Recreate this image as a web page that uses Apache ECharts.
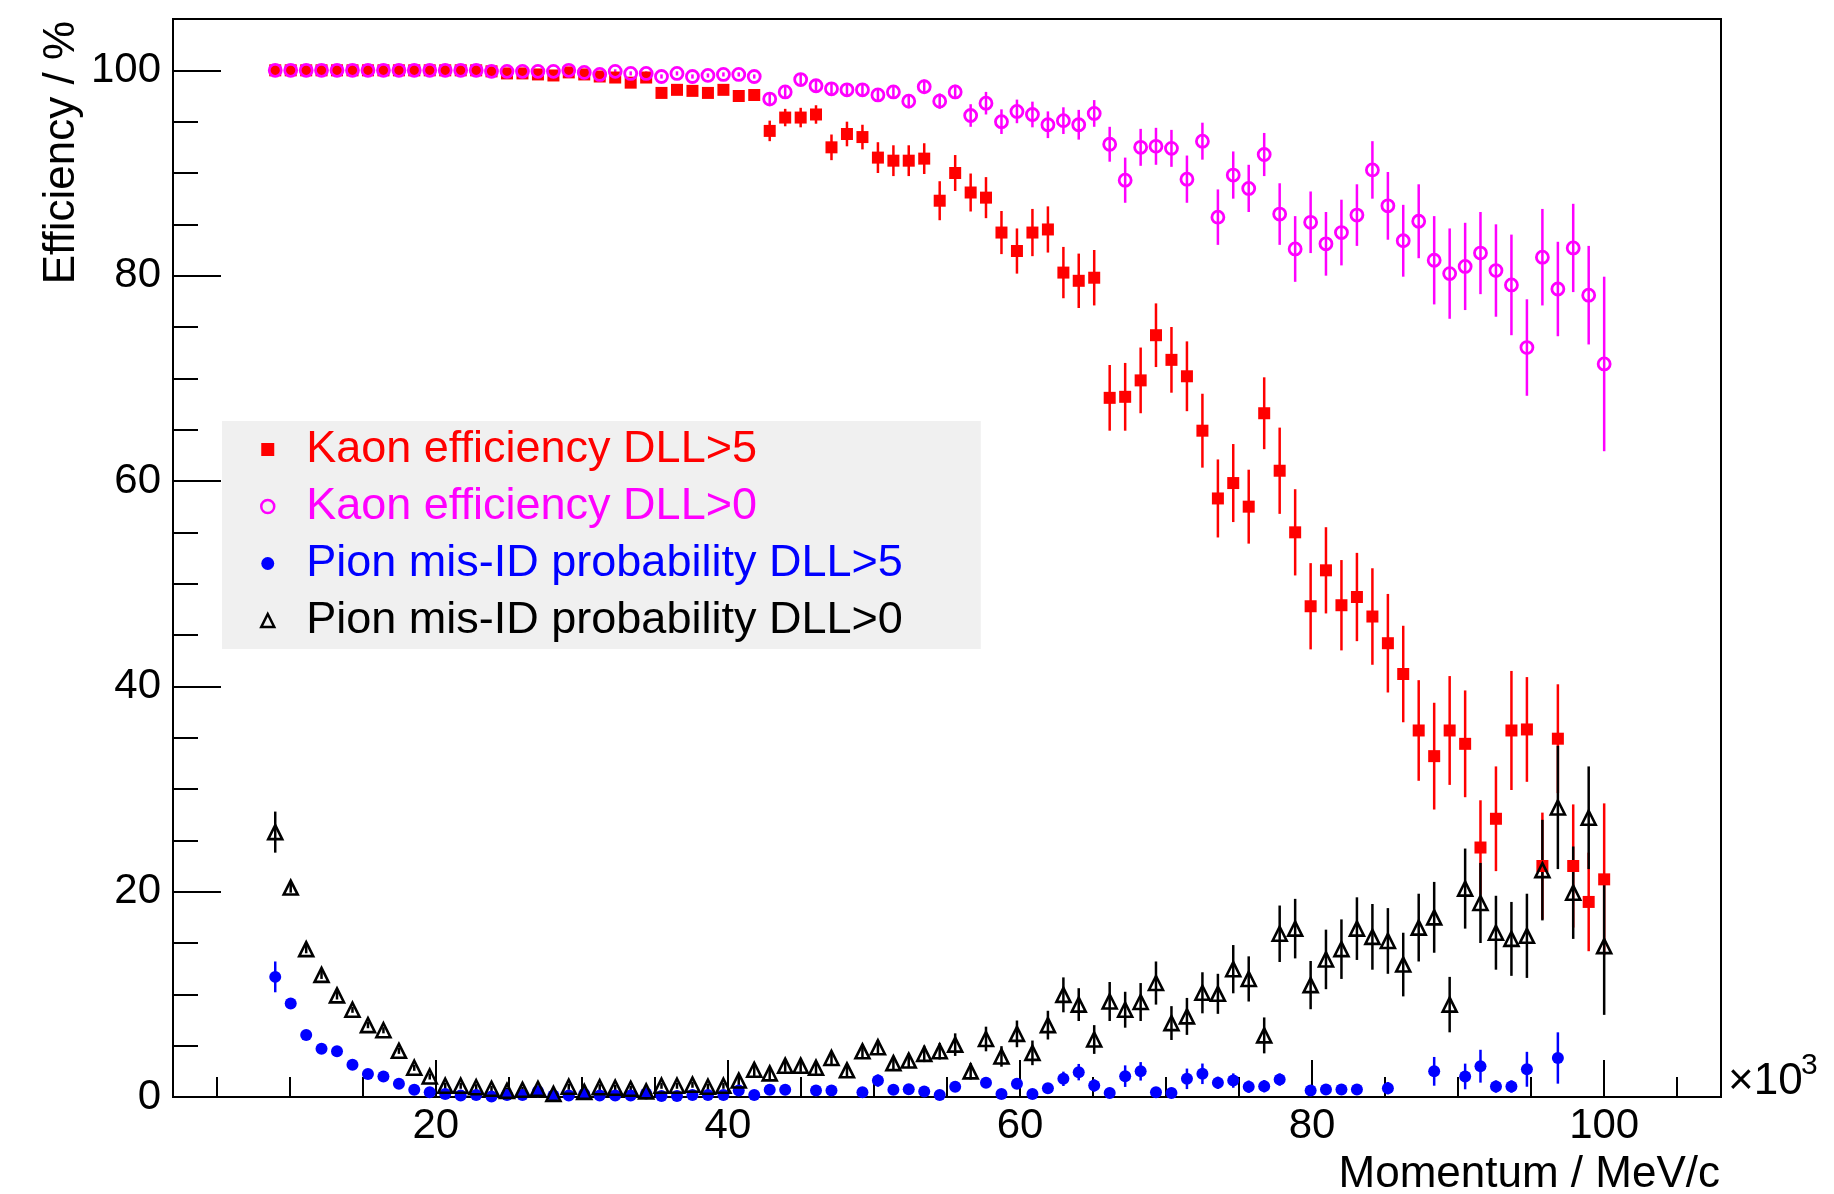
<!DOCTYPE html>
<html>
<head>
<meta charset="utf-8">
<title>Kaon efficiency and pion mis-ID vs momentum</title>
<script src="https://cdn.jsdelivr.net/npm/echarts@6/dist/echarts.min.js"></script>
<style>
    html, body { margin: 0; padding: 0; background: #fff; }
    #main { width: 1834px; height: 1194px; }
</style>
</head>
<body>
<div id="main"></div>
<script>
    // momentum bin centres, x10^3 MeV/c
    var momentum = [
        9.00, 10.06, 11.12, 12.17, 13.23, 14.29, 15.35, 16.41, 17.47, 18.52,
        19.58, 20.64, 21.70, 22.76, 23.81, 24.87, 25.93, 26.99, 28.05, 29.10,
        30.16, 31.22, 32.28, 33.34, 34.40, 35.45, 36.51, 37.57, 38.63, 39.69,
        40.74, 41.80, 42.86, 43.92, 44.98, 46.03, 47.09, 48.15, 49.21, 50.27,
        51.33, 52.38, 53.44, 54.50, 55.56, 56.62, 57.67, 58.73, 59.79, 60.85,
        61.91, 62.97, 64.02, 65.08, 66.14, 67.20, 68.26, 69.31, 70.37, 71.43,
        72.49, 73.55, 74.60, 75.66, 76.72, 77.78, 78.84, 79.90, 80.95, 82.01,
        83.07, 84.13, 85.19, 86.24, 87.30, 88.36, 89.42, 90.48, 91.53, 92.59,
        93.65, 94.71, 95.77, 96.83, 97.88, 98.94, 100.00
    ];

    // Kaon efficiency DLL>5 (%)
    var kaonDll5 = [
        100.0, 100.0, 100.0, 100.0, 100.0, 100.0, 100.0, 100.0, 100.0, 100.0,
        100.0, 100.0, 100.0, 100.0, 99.9, 99.7, 99.7, 99.6, 99.5, 99.8,
        99.6, 99.4, 99.3, 98.8, 99.3, 97.8, 98.1, 98.0, 97.8, 98.1,
        97.5, 97.6, 94.1, 95.4, 95.4, 95.7, 92.5, 93.8, 93.5, 91.5,
        91.2, 91.2, 91.4, 87.3, 90.0, 88.1, 87.6, 84.2, 82.4, 84.2,
        84.5, 80.3, 79.5, 79.8, 68.1, 68.2, 69.8, 74.2, 71.8, 70.2,
        64.9, 58.3, 59.8, 57.5, 66.6, 61.0, 55.0, 47.8, 51.3, 47.9,
        48.7, 46.8, 44.2, 41.2, 35.7, 33.2, 35.7, 34.4, 24.3, 27.1,
        35.7, 35.8, 22.5, 34.9, 22.5, 19.0, 21.2
    ];
    var kaonDll5Err = [
        0.1, 0.1, 0.1, 0.1, 0.1, 0.1, 0.1, 0.1, 0.1, 0.1,
        0.1, 0.1, 0.1, 0.1, 0.1, 0.1, 0.1, 0.1, 0.1, 0.1,
        0.1, 0.2, 0.2, 0.3, 0.3, 0.3, 0.3, 0.3, 0.3, 0.3,
        0.3, 0.3, 1.0, 0.85, 0.95, 0.9, 1.25, 1.2, 1.2, 1.5,
        1.5, 1.5, 1.5, 1.9, 1.75, 1.85, 2.0, 2.1, 2.2, 2.3,
        2.25, 2.5, 2.65, 2.7, 3.2, 3.3, 3.2, 3.1, 3.2, 3.4,
        3.6, 3.8, 3.8, 3.6, 3.5, 4.2, 4.2, 4.2, 4.2, 4.4,
        4.3, 4.7, 4.8, 4.7, 4.9, 5.2, 5.3, 5.2, 4.6, 5.1,
        5.8, 5.1, 5.2, 5.3, 6.0, 4.8, 7.4
    ];

    // Kaon efficiency DLL>0 (%)
    var kaonDll0 = [
        100.0, 100.0, 100.0, 100.0, 100.0, 100.0, 100.0, 100.0, 100.0, 100.0,
        100.0, 100.0, 100.0, 100.0, 99.9, 99.9, 99.9, 99.9, 99.9, 100.0,
        99.8, 99.6, 99.9, 99.7, 99.7, 99.4, 99.7, 99.4, 99.5, 99.6,
        99.6, 99.4, 97.2, 97.9, 99.1, 98.5, 98.2, 98.1, 98.1, 97.6,
        97.9, 97.0, 98.4, 97.0, 97.9, 95.6, 96.8, 95.0, 96.0, 95.7,
        94.7, 95.1, 94.7, 95.8, 92.8, 89.3, 92.5, 92.6, 92.4, 89.4,
        93.1, 85.7, 89.8, 88.5, 91.8, 86.0, 82.6, 85.2, 83.1, 84.2,
        85.9, 90.3, 86.8, 83.4, 85.3, 81.5, 80.2, 80.9, 82.2, 80.5,
        79.1, 73.0, 81.8, 78.7, 82.7, 78.1, 71.4
    ];
    var kaonDll0Err = [
        0.1, 0.1, 0.1, 0.1, 0.1, 0.1, 0.1, 0.1, 0.1, 0.1,
        0.1, 0.1, 0.1, 0.1, 0.1, 0.1, 0.1, 0.1, 0.1, 0.1,
        0.2, 0.2, 0.2, 0.2, 0.2, 0.2, 0.2, 0.2, 0.2, 0.2,
        0.2, 0.2, 0.5, 0.5, 0.5, 0.5, 0.5, 0.5, 0.5, 0.5,
        0.5, 0.7, 0.7, 0.75, 0.7, 1.1, 1.1, 1.2, 1.15, 1.25,
        1.3, 1.3, 1.45, 1.3, 1.7, 2.2, 1.8, 1.8, 1.8, 2.3,
        1.8, 2.7, 2.3, 2.3, 2.1, 3.0, 3.2, 3.0, 3.1, 3.2,
        3.0, 2.8, 3.3, 3.5, 3.6, 4.3, 4.4, 4.25, 4.0, 4.5,
        4.9, 4.7, 4.7, 4.6, 4.3, 4.8, 8.5
    ];

    // Pion mis-ID probability DLL>5 (%), null = no point
    var pionDll5 = [
        11.7, 9.1, 6.05, 4.7, 4.45, 3.15, 2.25, 2.0, 1.3, 0.7,
        0.47, 0.3, 0.15, 0.2, 0.05, 0.2, 0.2, 0.55, 0.15, 0.15,
        0.3, 0.15, 0.15, 0.15, 0.35, 0.1, 0.1, 0.2, 0.2, 0.2,
        0.63, 0.2, 0.7, 0.7, null, 0.63, 0.63, null, 0.47, 1.6,
        0.7, 0.76, 0.53, 0.2, 1.0, null, 1.38, 0.3, 1.28, 0.3,
        0.86, 1.77, 2.42, 1.12, 0.4, 2.03, 2.5, 0.47, 0.4, 1.77,
        2.26, 1.38, 1.6, 1.0, 1.05, 1.7, null, 0.63, 0.73, 0.73,
        0.73, null, 0.86, null, null, 2.5, null, 2.0, 3.0, 1.02,
        1.02, 2.7, null, 3.8, null, null, null
    ];
    var pionDll5Err = [
        1.5, 0.4, 0.3, 0.3, 0.3, 0.3, 0.3, 0.3, 0.3, 0.3,
        0.3, 0.3, 0.3, 0.3, 0.3, 0.3, 0.3, 0.3, 0.3, 0.3,
        0.3, 0.3, 0.3, 0.3, 0.3, 0.3, 0.3, 0.3, 0.3, 0.3,
        0.3, 0.3, 0.3, 0.3, 0, 0.3, 0.3, 0, 0.3, 0.6,
        0.4, 0.4, 0.4, 0.4, 0.5, 0, 0.5, 0.4, 0.5, 0.4,
        0.5, 0.7, 0.8, 0.6, 0.5, 1.05, 0.9, 0.5, 0.5, 1.0,
        1.0, 0.6, 0.7, 0.6, 0.6, 0.6, 0, 0.5, 0.5, 0.5,
        0.5, 0, 0.6, 0, 0, 1.4, 0, 1.25, 1.6, 0.6,
        0.6, 1.7, 0, 2.5, 0, 0, 0
    ];

    // Pion mis-ID probability DLL>0 (%)
    var pionDll0 = [
        25.8, 20.4, 14.4, 11.9, 9.9, 8.5, 7.0, 6.5, 4.5, 2.85,
        2.0, 1.1, 1.1, 0.95, 0.8, 0.6, 0.7, 0.8, 0.3, 1.0,
        0.5, 0.95, 0.9, 0.8, 0.55, 1.1, 1.1, 1.2, 1.0, 1.1,
        1.6, 2.65, 2.3, 3.05, 3.05, 2.85, 3.8, 2.6, 4.45, 4.85,
        3.3, 3.55, 4.2, 4.45, 5.1, 2.5, 5.65, 3.95, 6.15, 4.3,
        7.0, 9.95, 9.0, 5.6, 9.3, 8.5, 9.25, 11.1, 7.2, 7.85,
        10.15, 10.05, 12.45, 11.5, 6.0, 15.9, 16.4, 10.9, 13.4, 14.4,
        16.4, 15.6, 15.2, 12.9, 16.5, 17.5, 9.0, 20.3, 18.9, 16.0,
        15.4, 15.7, 22.1, 28.2, 19.9, 27.2, 14.7
    ];
    var pionDll0Err = [
        2.0, 0.5, 0.4, 0.4, 0.4, 0.3, 0.3, 0.3, 0.3, 0.3,
        0.3, 0.3, 0.3, 0.3, 0.3, 0.3, 0.3, 0.3, 0.3, 0.3,
        0.3, 0.3, 0.3, 0.3, 0.3, 0.3, 0.3, 0.3, 0.3, 0.3,
        0.5, 0.6, 0.6, 0.6, 0.6, 0.6, 0.7, 0.6, 0.7, 0.7,
        0.7, 0.7, 0.8, 0.8, 1.1, 0.8, 1.2, 1.0, 1.3, 1.2,
        1.4, 1.7, 1.6, 1.4, 1.9, 1.75, 1.85, 2.1, 1.65, 1.8,
        2.0, 1.95, 2.35, 2.2, 1.75, 2.75, 2.9, 2.35, 2.9, 2.9,
        3.05, 3.2, 3.2, 3.1, 3.3, 3.45, 2.7, 3.9, 3.9, 3.6,
        3.6, 4.1, 4.9, 6.0, 4.5, 5.0, 6.7
    ];

    // axis ticks
    var xMajorTicks = [20, 40, 60, 80, 100];
    var xMinorTicks = [5, 10, 15, 25, 30, 35, 45, 50, 55, 65, 70, 75, 85, 90, 95, 105];
    var yMajorTicks = [0, 20, 40, 60, 80, 100];
    var yMinorTicks = [5, 10, 15, 25, 30, 35, 45, 50, 55, 65, 70, 75, 85, 90, 95];

    var FONT = '"Liberation Sans", Arial, Helvetica, sans-serif';

    function points(ys) {
        var out = [];
        for (var i = 0; i < momentum.length; i++) {
            if (ys[i] === null) continue;
            out.push([momentum[i], ys[i]]);
        }
        return out;
    }

    function errorBars(ys, errs, color) {
        var out = [];
        for (var i = 0; i < momentum.length; i++) {
            if (ys[i] === null) continue;
            out.push([momentum[i], Math.max(0, ys[i] - errs[i]), ys[i] + errs[i]]);
        }
        return {
            type: 'custom',
            data: out,
            clip: true,
            silent: true,
            encode: { x: 0, y: [1, 2] },
            renderItem: function (params, api) {
                var lo = api.coord([api.value(0), api.value(1)]);
                var hi = api.coord([api.value(0), api.value(2)]);
                return {
                    type: 'line',
                    shape: { x1: lo[0], y1: lo[1], x2: hi[0], y2: hi[1] },
                    style: { stroke: color, lineWidth: 2.5 }
                };
            }
        };
    }

    var myChart = echarts.init(document.getElementById('main'));

    var option = {
        animation: false,
        backgroundColor: '#ffffff',
        grid: {
            left: 173, right: 113, top: 19, bottom: 97,
            show: true, borderColor: '#000', borderWidth: 2
        },
        xAxis: [
            {
                type: 'value', min: 2, max: 108, position: 'bottom',
                axisLine: { show: true, lineStyle: { color: '#000', width: 2 } },
                axisTick: { show: true, inside: true, length: 37, customValues: xMajorTicks,
                    lineStyle: { color: '#000', width: 2 } },
                axisLabel: { customValues: xMajorTicks, fontSize: 42, fontFamily: FONT,
                    color: '#000', margin: 8 },
                splitLine: { show: false }
            },
            {
                type: 'value', min: 2, max: 108, position: 'bottom',
                axisLine: { show: false },
                axisTick: { show: true, inside: true, length: 20, customValues: xMinorTicks,
                    lineStyle: { color: '#000', width: 2 } },
                axisLabel: { show: false },
                splitLine: { show: false }
            }
        ],
        yAxis: [
            {
                type: 'value', min: 0, max: 105, position: 'left',
                axisLine: { show: true, lineStyle: { color: '#000', width: 2 } },
                axisTick: { show: true, inside: true, length: 48, customValues: yMajorTicks,
                    lineStyle: { color: '#000', width: 2 } },
                axisLabel: { customValues: yMajorTicks, fontSize: 42, fontFamily: FONT,
                    color: '#000', margin: 12 },
                splitLine: { show: false }
            },
            {
                type: 'value', min: 0, max: 105, position: 'left',
                axisLine: { show: false },
                axisTick: { show: true, inside: true, length: 25, customValues: yMinorTicks,
                    lineStyle: { color: '#000', width: 2 } },
                axisLabel: { show: false },
                splitLine: { show: false }
            }
        ],
        legend: {
            left: 222, top: 421, orient: 'vertical',
            backgroundColor: '#f0f0f0',
            padding: [0, 78, 0, 38],
            itemGap: 0, itemWidth: 13, itemHeight: 13,
            selectedMode: false,
            textStyle: { fontSize: 45, fontFamily: FONT, lineHeight: 57, padding: [0, 0, 0, 27] },
            data: [
                { name: 'Kaon efficiency DLL>5', icon: 'rect',
                  itemStyle: { color: '#ff0000', borderWidth: 0 }, textStyle: { color: '#ff0000' } },
                { name: 'Kaon efficiency DLL>0', icon: 'circle',
                  itemStyle: { color: 'transparent', borderColor: '#ff00ff', borderWidth: 2.5 },
                  textStyle: { color: '#ff00ff' } },
                { name: 'Pion mis-ID probability DLL>5', icon: 'circle',
                  itemStyle: { color: '#0000ff', borderWidth: 0 }, textStyle: { color: '#0000ff' } },
                { name: 'Pion mis-ID probability DLL>0', icon: 'triangle',
                  itemStyle: { color: 'transparent', borderColor: '#000', borderWidth: 2.5 },
                  textStyle: { color: '#000' } }
            ]
        },
        graphic: [
            { type: 'text', x: 62, y: 21, rotation: Math.PI / 2,
              style: { text: 'Efficiency / %', fontSize: 44, fontFamily: FONT, fill: '#000',
                       align: 'right', verticalAlign: 'middle' } },
            { type: 'text', x: 1720, y: 1175,
              style: { text: 'Momentum / MeV/c', fontSize: 44, fontFamily: FONT, fill: '#000',
                       align: 'right', verticalAlign: 'middle' } },
            { type: 'text', x: 1728, y: 1082,
              style: { text: '\u00d710', fontSize: 44, fontFamily: FONT, fill: '#000',
                       align: 'left', verticalAlign: 'middle' } },
            { type: 'text', x: 1801, y: 1066,
              style: { text: '3', fontSize: 30, fontFamily: FONT, fill: '#000',
                       align: 'left', verticalAlign: 'middle' } }
        ],
        series: [
            errorBars(kaonDll5, kaonDll5Err, '#ff0000'),
            {
                name: 'Kaon efficiency DLL>5', type: 'scatter', data: points(kaonDll5),
                symbol: 'rect', symbolSize: 12,
                itemStyle: { color: '#ff0000', opacity: 1 }
            },
            errorBars(kaonDll0, kaonDll0Err, '#ff00ff'),
            {
                name: 'Kaon efficiency DLL>0', type: 'scatter', data: points(kaonDll0),
                symbol: 'circle', symbolSize: 12,
                itemStyle: { color: 'transparent', borderColor: '#ff00ff', borderWidth: 2.8, opacity: 1 }
            },
            errorBars(pionDll5, pionDll5Err, '#0000ff'),
            {
                name: 'Pion mis-ID probability DLL>5', type: 'scatter', data: points(pionDll5),
                symbol: 'circle', symbolSize: 12,
                itemStyle: { color: '#0000ff', opacity: 1 }
            },
            errorBars(pionDll0, pionDll0Err, '#000000'),
            {
                name: 'Pion mis-ID probability DLL>0', type: 'scatter', data: points(pionDll0),
                symbol: 'triangle', symbolSize: 14,
                itemStyle: { color: 'transparent', borderColor: '#000', borderWidth: 2.6, opacity: 1 }
            }
        ]
    };
    myChart.setOption(option);
</script>
</body>
</html>
